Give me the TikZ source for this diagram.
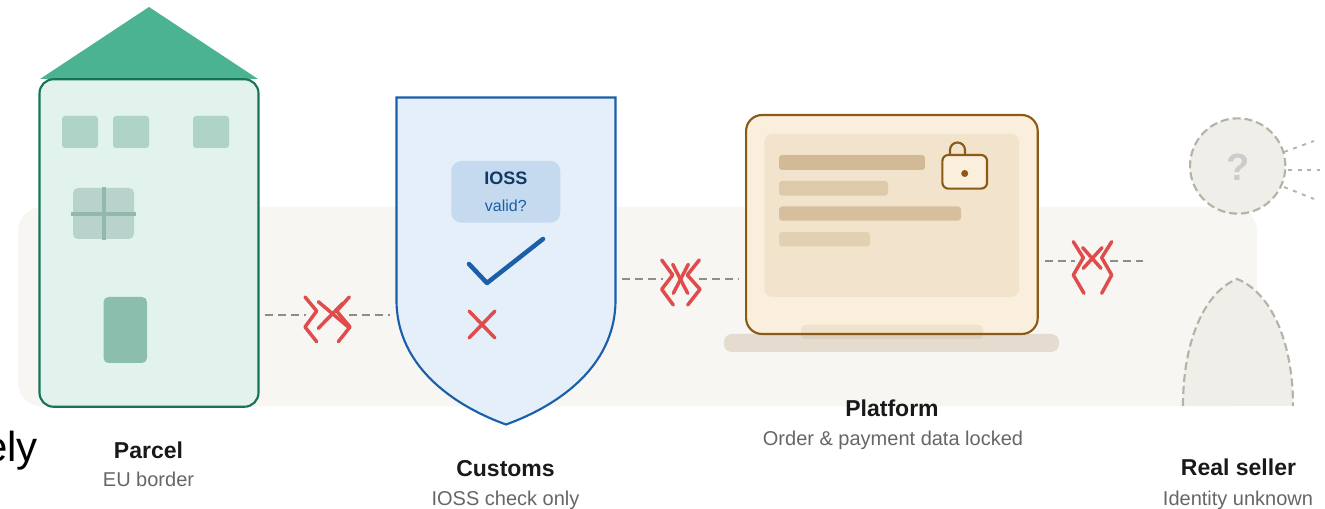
\documentclass[tikz,border=0pt]{standalone}
\usepackage{fontspec}
\usepackage{xcolor}
\setmainfont{Liberation Sans}
\definecolor{bandfill}{HTML}{F7F6F2}
\definecolor{parcelline}{HTML}{16745A}
\definecolor{parcelfill}{HTML}{E1F3EC}
\definecolor{rooffill}{HTML}{4CB392}
\definecolor{windowfill}{HTML}{AED3C7}
\definecolor{panefill}{HTML}{B8D3CC}
\definecolor{crossfill}{HTML}{93B9AE}
\definecolor{doorfill}{HTML}{8CBEAE}
\definecolor{shieldline}{HTML}{1A5FA8}
\definecolor{shieldfill}{HTML}{E4EFFA}
\definecolor{iossfill}{HTML}{C5DAEE}
\definecolor{screenline}{HTML}{8B5A14}
\definecolor{screenfill}{HTML}{FAEEDC}
\definecolor{panelfill}{HTML}{F2E4CC}
\definecolor{padfill}{HTML}{E5DBCF}
\definecolor{sellerline}{HTML}{B5B2A8}
\definecolor{sellerfill}{HTML}{F0EEE8}
\definecolor{cutred}{HTML}{E04B4B}
\definecolor{linkgrey}{HTML}{8F8E86}

\begin{document}
\begin{tikzpicture}
                [x=0.75pt,y=-0.75pt,
                 box/.style = {draw,inner sep=0pt,outer sep=0pt,line width=1.6pt},
                 link/.style = {draw=linkgrey,line width=1.9pt,dash pattern=on 6pt off 3.75pt},
                 cut/.style = {draw=cutred,line width=2.6pt,line cap=round,line join=round},
                 title/.style = {anchor=base,text=black!90,font=\fontsize{17.25}{20}\selectfont\bfseries},
                 note/.style = {anchor=base,text=black!60,font=\fontsize{15}{18}\selectfont},
                 bar/.style = {rounded corners=2.25pt},
                 ray/.style = {draw=sellerline,line width=1.4pt,dash pattern=on 3pt off 4.25pt},
                 mask/.style = {draw=sellerline,fill=sellerfill,line width=1.6pt,dash pattern=on 6pt off 3pt}]

                \useasboundingbox (0,0) rectangle (1325,509);
                \fill[bandfill,rounded corners=18pt] (18,207) rectangle (1257,406.5);

                \node[anchor=base east,inner sep=0pt,text=black,font=\fontsize{31.5}{36}\selectfont] (tail) at (38,462) {ely};

                \fill[rooffill] (149,7) -- (258,79) -- (40,79) -- cycle;
                \node[box,draw=parcelline,fill=parcelfill,rounded corners=10.5pt,minimum width=164.25pt,minimum height=245.6pt] (parcel) at (149,243) {};
                \fill[bar,fill=windowfill] (62,116) rectangle (98,148);
                \fill[bar,fill=windowfill] (113,116) rectangle (149,148);
                \fill[bar,fill=windowfill] (193,116) rectangle (229,148);
                \fill[rounded corners=3.75pt,fill=panefill] (73,188) rectangle (134,239);
                \fill[fill=crossfill] (101.5,187) rectangle (106,240);
                \fill[fill=crossfill] (71,212) rectangle (136,216);
                \fill[rounded corners=3.75pt,fill=doorfill] (103.5,297) rectangle (147,363);
                \node[title] (parceltitle) at (148.5,458.5) {Parcel};
                \node[note] (parcelnote) at (148.5,487) {EU border};

                \path[draw=shieldline,fill=shieldfill,line width=1.6pt] (396.5,97.5) -- (615.5,97.5) -- (615.5,300)
                    .. controls (615.5,370) and (552,408) .. (506,424.5)
                    .. controls (460,408) and (396.5,370) .. (396.5,300) -- cycle;
                \node[fill=iossfill,rounded corners=7.5pt,inner sep=0pt,minimum width=81.75pt,minimum height=46.25pt] (ioss) at (505.8,191.8) {};
                \node[anchor=base,text=shieldline!60!black,font=\fontsize{13.5}{16}\selectfont\bfseries] (iosstitle) at (505.8,185) {IOSS};
                \node[anchor=base,text=shieldline,font=\fontsize{12}{14}\selectfont] (iossnote) at (505.8,212) {valid?};
                \draw[shieldline,line width=3.4pt,line cap=round,line join=round] (469,264) -- (487,283) -- (543,239);
                \draw[cut] (469,311) -- (495,338);
                \draw[cut] (495,311) -- (469,338);
                \node[title] (customstitle) at (505.5,476.5) {Customs};
                \node[note] (customsnote) at (505.5,505.5) {IOSS check only};

                \fill[rounded corners=6pt,fill=padfill] (724,334) rectangle (1059,352);
                \node[box,draw=screenline,fill=screenfill,rounded corners=12pt,minimum width=218.75pt,minimum height=164.25pt] (screen) at (891.9,224.5) {};
                \fill[rounded corners=6pt,fill=panelfill] (764.3,133.7) rectangle (1019,297);
                \fill[bar,fill=screenline!35!screenfill] (779,155) rectangle (925,170);
                \fill[bar,fill=screenline!25!screenfill] (779,181) rectangle (888,195.7);
                \fill[bar,fill=screenline!32!screenfill] (779,206.5) rectangle (961,220.7);
                \fill[bar,fill=screenline!21!screenfill] (779,232) rectangle (870,246.5);
                \draw[screenline,line width=1.6pt] (950,155) -- (950,150) arc[start angle=180,end angle=360,radius=7.5] -- (965,155);
                \node[box,draw=screenline,fill=screenfill,rounded corners=4.5pt,minimum width=33.5pt,minimum height=25.25pt] (lock) at (964.7,171.8) {};
                \node[circle,fill=screenline,inner sep=0pt,minimum size=5.25pt] (keyhole) at (964.7,173.5) {};
                \fill[rounded corners=3pt,fill=screenline,opacity=.08] (801,325) rectangle (983,339);
                \node[title] (platformtitle) at (892,416.5) {Platform};
                \node[note] (platformnote) at (893,445.5) {Order \& payment data locked};

                \node[circle,mask,inner sep=0pt,outer sep=0pt,minimum size=71.5pt] (head) at (1237.7,166) {};
                \node[anchor=base,text=black!20,font=\fontsize{28.5}{30}\selectfont\bfseries] (unknown) at (1238,180.7) {?};
                \coordinate (rayAa) at (1284,152);
                \coordinate (rayAb) at (1314,141);
                \coordinate (rayBa) at (1288,170);
                \coordinate (rayBb) at (1320,170);
                \coordinate (rayCa) at (1284,187);
                \coordinate (rayCb) at (1314,199);
                \path[ray] (rayAa) edge (rayAb);
                \path[ray] (rayBa) edge (rayBb);
                \path[ray] (rayCa) edge (rayCb);
                \fill[sellerfill] (1183,406) .. controls (1183,340) and (1205,292) .. (1237,279) .. controls (1270,292) and (1293,340) .. (1293,406) -- cycle;
                \draw[sellerline,line width=1.6pt,dash pattern=on 6pt off 3pt] (1183,406) .. controls (1183,340) and (1205,292) .. (1237,279) .. controls (1270,292) and (1293,340) .. (1293,406);
                \node[title] (sellertitle) at (1238.5,476) {Real seller};
                \node[note] (sellernote) at (1238,506) {Identity unknown};

                \coordinate (linkAa) at (265,315);
                \coordinate (linkAb) at (306,315);
                \coordinate (linkAc) at (349,315);
                \coordinate (linkAd) at (390,315);
                \coordinate (linkBa) at (622,279);
                \coordinate (linkBb) at (663,279);
                \coordinate (linkBc) at (699,279);
                \coordinate (linkBd) at (739,279);
                \coordinate (linkCa) at (1045,261);
                \coordinate (linkCb) at (1075,261);
                \coordinate (linkCc) at (1110,261);
                \coordinate (linkCd) at (1143,261);
                \path[link] (linkAa) edge (linkAb);
                \path[link] (linkAc) edge (linkAd);
                \path[link] (linkBa) edge (linkBb);
                \path[link] (linkBc) edge (linkBd);
                \path[link] (linkCa) edge (linkCb);
                \path[link] (linkCc) edge (linkCd);

                \draw[cut] (305,297) -- (316.7,311) -- (305,327) -- (316.7,341.7);
                \draw[cut] (349.3,297) -- (336.7,311) -- (350,327) -- (338.3,341.7);
                \draw[cut] (318.3,301.7) -- (348.3,327);
                \draw[cut] (343,303) -- (318.3,328.3);

                \draw[cut] (661.7,260) -- (672.7,275) -- (661.7,289.3) -- (673.3,305);
                \draw[cut] (699.3,260) -- (687.3,275) -- (700,289.3) -- (687.7,305);
                \draw[cut] (672.7,264.3) -- (687.7,293.3);
                \draw[cut] (688.3,264.3) -- (673.3,293.3);

                \draw[cut] (1073.3,241.7) -- (1083.3,257.7) -- (1073.3,275) -- (1084,293.3);
                \draw[cut] (1111.7,241.7) -- (1101.7,257.7) -- (1111.7,275) -- (1101.7,293.3);
                \draw[cut] (1082.7,247.7) -- (1101,268.3);
                \draw[cut] (1102,247.7) -- (1083.3,268.3);

\end{tikzpicture}
\end{document}
